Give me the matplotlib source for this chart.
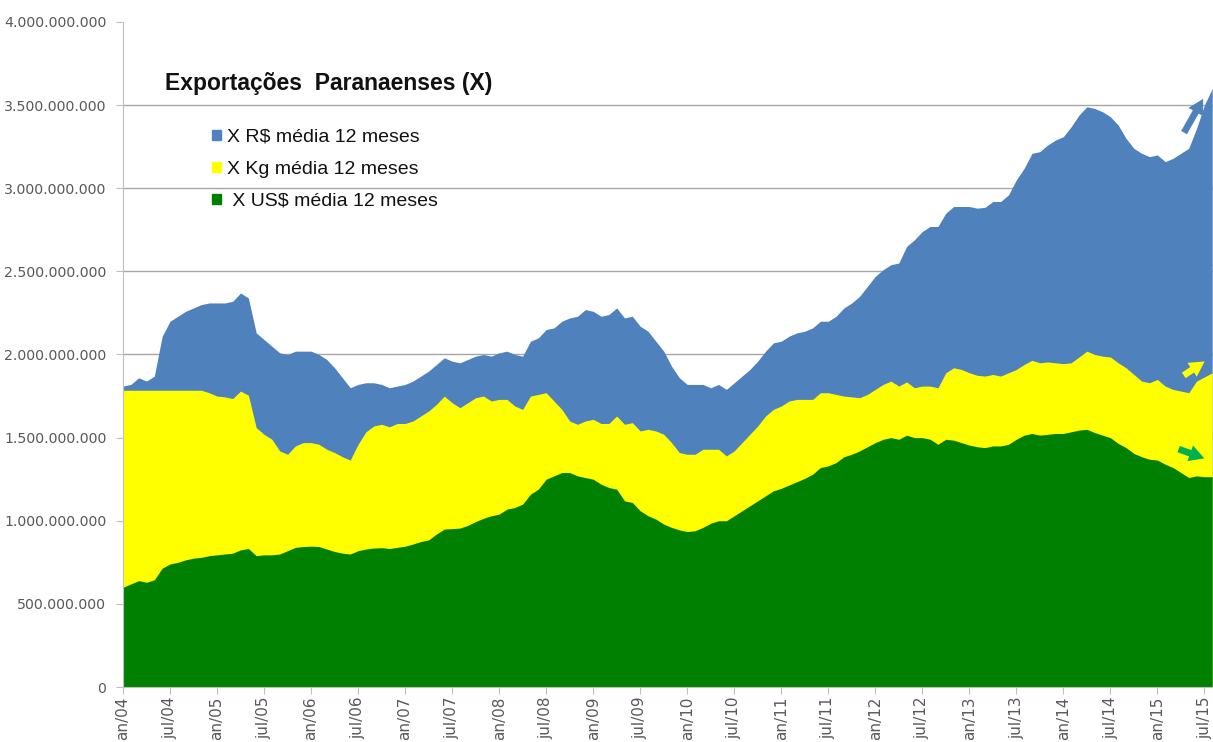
import matplotlib
matplotlib.use("Agg")
import matplotlib.pyplot as plt
from matplotlib.patches import Patch
from matplotlib.ticker import FuncFormatter
import numpy as np

# médias móveis de 12 meses, jan/04 .. ago/15 (bilhões)
exp_rs = [
    1.81, 1.82, 1.86, 1.84, 1.87, 2.11, 2.20, 2.23, 2.26, 2.28, 2.30, 2.31,
    2.31, 2.31, 2.32, 2.37, 2.34, 2.13, 2.09, 2.05, 2.01, 2.00, 2.02, 2.02,
    2.02, 2.00, 1.97, 1.92, 1.86, 1.80, 1.82, 1.83, 1.83, 1.82, 1.80, 1.81,
    1.82, 1.84, 1.87, 1.90, 1.94, 1.98, 1.96, 1.95, 1.97, 1.99, 2.00, 1.99,
    2.01, 2.02, 2.00, 1.99, 2.08, 2.10, 2.15, 2.16, 2.20, 2.22, 2.23, 2.27,
    2.26, 2.23, 2.24, 2.28, 2.22, 2.23, 2.17, 2.14, 2.08, 2.02, 1.93, 1.86,
    1.82, 1.82, 1.82, 1.80, 1.82, 1.79, 1.83, 1.87, 1.91, 1.96, 2.02, 2.07,
    2.08, 2.11, 2.13, 2.14, 2.16, 2.20, 2.20, 2.23, 2.28, 2.31, 2.35, 2.41,
    2.47, 2.51, 2.54, 2.55, 2.65, 2.69, 2.74, 2.77, 2.77, 2.85, 2.89, 2.89,
    2.89, 2.88, 2.885, 2.92, 2.92, 2.96, 3.05, 3.12, 3.21, 3.22, 3.26, 3.29,
    3.31, 3.37, 3.44, 3.49, 3.48, 3.46, 3.43, 3.38, 3.30, 3.24, 3.21, 3.19,
    3.20, 3.16, 3.18, 3.21, 3.24, 3.36, 3.50, 3.60,
]
exp_kg = [
    1.785, 1.785, 1.785, 1.785, 1.785, 1.785, 1.785, 1.785, 1.785, 1.785, 1.785, 1.77,
    1.75, 1.745, 1.735, 1.78, 1.755, 1.56, 1.52, 1.49, 1.42, 1.40, 1.45, 1.47,
    1.47, 1.46, 1.43, 1.41, 1.385, 1.365, 1.46, 1.535, 1.57, 1.58, 1.565, 1.585,
    1.585, 1.60, 1.63, 1.66, 1.70, 1.75, 1.71, 1.68, 1.71, 1.74, 1.75, 1.72,
    1.73, 1.73, 1.69, 1.67, 1.75, 1.76, 1.77, 1.72, 1.67, 1.60, 1.58, 1.60,
    1.61, 1.585, 1.585, 1.63, 1.58, 1.59, 1.54, 1.55, 1.54, 1.52, 1.47, 1.41,
    1.40, 1.40, 1.43, 1.43, 1.43, 1.39, 1.42, 1.47, 1.52, 1.57, 1.63, 1.67,
    1.69, 1.72, 1.73, 1.73, 1.73, 1.77, 1.77, 1.76, 1.75, 1.745, 1.74, 1.76,
    1.79, 1.82, 1.84, 1.81, 1.835, 1.80, 1.81, 1.81, 1.80, 1.89, 1.92, 1.91,
    1.89, 1.875, 1.87, 1.88, 1.87, 1.89, 1.91, 1.94, 1.965, 1.95, 1.955, 1.95,
    1.945, 1.95, 1.985, 2.02, 2.00, 1.99, 1.985, 1.95, 1.92, 1.88, 1.84, 1.83,
    1.85, 1.81, 1.79, 1.78, 1.77, 1.84, 1.865, 1.89,
]
exp_us = [
    0.60, 0.62, 0.64, 0.63, 0.645, 0.715, 0.74, 0.75, 0.765, 0.775, 0.78, 0.79,
    0.795, 0.80, 0.805, 0.825, 0.833, 0.79, 0.795, 0.795, 0.80, 0.82, 0.84, 0.845,
    0.847, 0.845, 0.83, 0.815, 0.805, 0.80, 0.82, 0.83, 0.836, 0.838, 0.833, 0.84,
    0.847, 0.86, 0.875, 0.885, 0.92, 0.95, 0.953, 0.956, 0.972, 0.995, 1.015, 1.03,
    1.04, 1.07, 1.08, 1.10, 1.16, 1.19, 1.25, 1.27, 1.29, 1.29, 1.27, 1.26,
    1.25, 1.22, 1.20, 1.19, 1.12, 1.11, 1.06, 1.03, 1.01, 0.98, 0.96, 0.945,
    0.935, 0.94, 0.96, 0.985, 1.00, 1.00, 1.03, 1.06, 1.09, 1.12, 1.15, 1.18,
    1.195, 1.215, 1.235, 1.255, 1.28, 1.32, 1.33, 1.35, 1.385, 1.40, 1.42, 1.445,
    1.47, 1.49, 1.50, 1.49, 1.515, 1.50, 1.50, 1.49, 1.46, 1.49, 1.485, 1.47,
    1.455, 1.445, 1.44, 1.45, 1.45, 1.46, 1.49, 1.515, 1.525, 1.515, 1.52, 1.525,
    1.525, 1.535, 1.545, 1.55, 1.53, 1.515, 1.50, 1.465, 1.44, 1.405, 1.385, 1.37,
    1.365, 1.34, 1.32, 1.29, 1.26, 1.27, 1.265, 1.265,
]

tick_labels = [
    "an/04", "jul/04", "an/05", "jul/05", "an/06", "jul/06", "an/07", "jul/07",
    "an/08", "jul/08", "an/09", "jul/09", "an/10", "jul/10", "an/11", "jul/11",
    "an/12", "jul/12", "an/13", "jul/13", "an/14", "jul/14", "an/15", "jul/15",
]

BLUE = "#4f81bd"
YELLOW = "#ffff00"
GREEN = "#008000"

x = np.arange(len(exp_rs))
rs = np.array(exp_rs) * 1e9
kg = np.array(exp_kg) * 1e9
us = np.array(exp_us) * 1e9

fig = plt.figure(figsize=(12.13, 7.42), dpi=100)
ax = fig.add_axes([0.1014, 0.0741, 0.8986, 0.8963])

ax.fill_between(x, 0, rs, color=BLUE, lw=0, zorder=2)
ax.fill_between(x, 0, kg, color=YELLOW, lw=0, zorder=3)
ax.fill_between(x, 0, us, color=GREEN, lw=0, zorder=4)

ax.set_xlim(0, 139.1)
ax.set_ylim(0, 4e9)
ax.set_yticks(np.arange(0, 4.01e9, 5e8))
ax.yaxis.set_major_formatter(FuncFormatter(lambda v, p: f"{int(round(v)):,}".replace(",", ".")))
ax.set_xticks(np.arange(0, len(tick_labels) * 6, 6))
ax.set_xticklabels(tick_labels, rotation=90, va="top", ha="center")

ax.grid(axis="y", color="#a6a6a6", lw=1.0, zorder=1)
ax.set_axisbelow(True)
ax.get_ygridlines()[-1].set_visible(False)
for s in ("top", "right"):
    ax.spines[s].set_visible(False)
for s in ("left", "bottom"):
    ax.spines[s].set_color("#bfbfbf")
    ax.spines[s].set_zorder(5)
ax.tick_params(axis="y", colors="#bfbfbf", length=5, pad=7, labelsize=10.2, labelcolor="#595959")
ax.tick_params(axis="x", colors="#bfbfbf", length=5, pad=2, labelsize=11, labelcolor="#595959")

fig.text(0.136, 0.887, "Exportações  Paranaenses (X)", fontsize=16.5, fontweight="bold",
         family="Liberation Sans", va="center", ha="left", color="#111111")

handles = [Patch(color=BLUE), Patch(color=YELLOW), Patch(color=GREEN)]
labels = ["X R$ média 12 meses", "X Kg média 12 meses", " X US$ média 12 meses"]
leg = fig.legend(handles, labels, loc="upper left", bbox_to_anchor=(0.1668, 0.8395),
                 frameon=False, handlelength=0.45, handleheight=0.45, handletextpad=0.3,
                 labelspacing=0.77, borderpad=0, prop={"family": "Liberation Sans", "size": 14})
for t in leg.get_texts():
    t.set_color("#111111")

# setas de tendência
arrow = "simple,head_width=1.0,head_length=0.9,tail_width=0.4"
ax.annotate("", xy=(0.993, 0.870), xytext=(0.975, 0.818), xycoords="figure fraction",
            arrowprops=dict(arrowstyle=arrow, fc=BLUE, ec="none", mutation_scale=12), zorder=6)
ax.annotate("", xy=(0.995, 0.515), xytext=(0.974, 0.492), xycoords="figure fraction",
            arrowprops=dict(arrowstyle=arrow, fc=YELLOW, ec="none", mutation_scale=12), zorder=6)
ax.annotate("", xy=(0.995, 0.381), xytext=(0.9695, 0.396), xycoords="figure fraction",
            arrowprops=dict(arrowstyle=arrow, fc="#00b050", ec="none", mutation_scale=12), zorder=6)

fig.savefig("out.png", dpi=100)
